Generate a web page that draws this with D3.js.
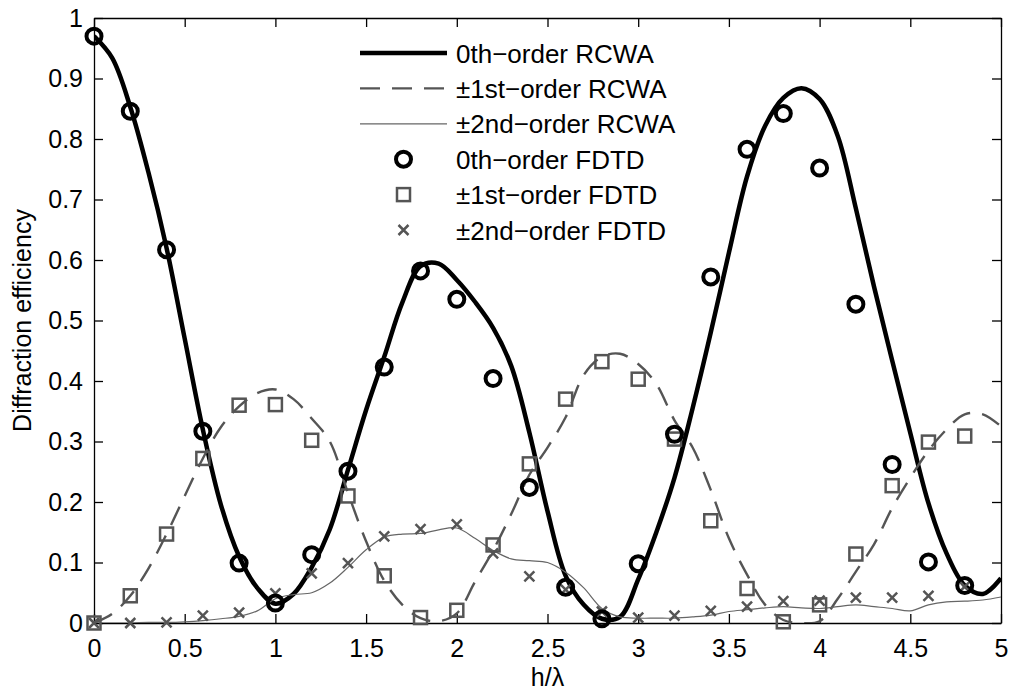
<!DOCTYPE html>
<html>
<head>
<meta charset="utf-8">
<script src="https://cdn.jsdelivr.net/npm/d3@7"></script>
<style>
  body { margin: 0; background: #fff; }
  svg text { font-family: "Liberation Sans", Arial, Helvetica, sans-serif; fill: #000; }
</style>
</head>
<body>
<script>
// h/lambda sample positions
var hSteps = [0,0.1,0.2,0.3,0.4,0.5,0.6,0.7,0.8,0.9,1.0,1.1,1.2,1.3,1.4,1.5,1.6,1.7,1.8,1.9,2.0,
              2.1,2.2,2.3,2.4,2.5,2.6,2.7,2.8,2.9,3.0,3.1,3.2,3.3,3.4,3.5,3.6,3.7,3.8,3.9,4.0,
              4.1,4.2,4.3,4.4,4.5,4.6,4.7,4.8,4.9,5.0];

// RCWA curves
var rcwa0 = [0.970,0.934,0.853,0.745,0.620,0.470,0.320,0.195,0.110,0.058,0.032,0.048,0.092,0.155,0.253,0.352,0.440,0.530,0.590,0.594,0.567,
             0.531,0.488,0.425,0.315,0.185,0.078,0.030,0.007,0.010,0.072,0.150,0.240,0.355,0.480,0.612,0.738,0.822,0.868,0.884,0.866,
             0.805,0.685,0.556,0.434,0.314,0.198,0.115,0.062,0.048,0.074];
var rcwa1 = [0.000,0.015,0.045,0.090,0.147,0.210,0.272,0.324,0.358,0.380,0.386,0.370,0.338,0.300,0.215,0.135,0.070,0.030,0.008,0.003,0.016,
             0.068,0.120,0.180,0.245,0.290,0.340,0.410,0.440,0.445,0.428,0.395,0.335,0.290,0.220,0.140,0.080,0.030,0.005,0.000,0.003,
             0.040,0.085,0.130,0.190,0.240,0.285,0.320,0.345,0.345,0.325];
var rcwa2 = [0.000,0.000,0.000,0.001,0.001,0.002,0.004,0.007,0.011,0.020,0.040,0.047,0.050,0.066,0.092,0.121,0.142,0.147,0.148,0.154,0.157,
             0.140,0.120,0.106,0.103,0.100,0.084,0.058,0.024,0.010,0.008,0.008,0.008,0.010,0.013,0.019,0.022,0.025,0.027,0.025,0.024,
             0.027,0.030,0.027,0.024,0.020,0.030,0.035,0.036,0.038,0.043];

// FDTD points, every 0.2
var hFdtd = [0,0.2,0.4,0.6,0.8,1.0,1.2,1.4,1.6,1.8,2.0,2.2,2.4,2.6,2.8,3.0,3.2,3.4,3.6,3.8,4.0,4.2,4.4,4.6,4.8];
var fdtd0 = [0.970,0.846,0.617,0.317,0.099,0.033,0.113,0.251,0.423,0.582,0.535,0.404,0.224,0.059,0.007,0.098,0.312,0.572,0.783,0.842,0.752,0.527,0.262,0.101,0.062];
var fdtd1 = [0.000,0.045,0.147,0.272,0.360,0.361,0.302,0.210,0.078,0.009,0.021,0.129,0.263,0.370,0.432,0.403,0.304,0.169,0.057,0.002,0.030,0.114,0.227,0.299,0.309];
var fdtd2 = [0.000,0.000,0.001,0.012,0.017,0.049,0.082,0.099,0.143,0.155,0.163,0.115,0.077,0.055,0.019,0.009,0.012,0.020,0.027,0.036,0.037,0.042,0.042,0.045,0.060];

var xTicks = [0,0.5,1,1.5,2,2.5,3,3.5,4,4.5,5];
var xTickLabels = ["0","0.5","1","1.5","2","2.5","3","3.5","4","4.5","5"];
var yTicks = [0,0.1,0.2,0.3,0.4,0.5,0.6,0.7,0.8,0.9,1];
var yTickLabels = ["0","0.1","0.2","0.3","0.4","0.5","0.6","0.7","0.8","0.9","1"];

var legendLabels = ["0th\u2212order RCWA","\u00b11st\u2212order RCWA","\u00b12nd\u2212order RCWA",
                    "0th\u2212order FDTD","\u00b11st\u2212order FDTD","\u00b12nd\u2212order FDTD"];

var width = 1011, height = 692,
    margin = {left: 94, right: 10, top: 18, bottom: 69},
    innerW = width - margin.left - margin.right,
    innerH = height - margin.top - margin.bottom,
    fontSize = 25,
    gray = "#555";

var svg = d3.select("body").append("svg")
    .attr("width", width)
    .attr("height", height);

var x = d3.scaleLinear().domain([0, 5]).range([0, innerW]);
var y = d3.scaleLinear().domain([0, 1]).range([innerH, 0]);

var g = svg.append("g")
    .attr("transform", "translate(" + margin.left + "," + margin.top + ")");

svg.append("clipPath").attr("id", "plotClip")
  .append("rect").attr("width", innerW).attr("height", innerH);

//axes, ticks pointing inward like matlab
function styleAxis(sel){
    sel.selectAll("path, line").attr("stroke", "#000").attr("stroke-width", 1.3);
    sel.selectAll("text").style("font-size", fontSize + "px")
       .style("font-family", "'Liberation Sans', Arial, sans-serif").attr("fill", "#000");
}

g.append("g").attr("transform", "translate(0," + innerH + ")")
    .call(d3.axisBottom(x).tickValues(xTicks).tickSize(-9).tickSizeOuter(0).tickPadding(16)
        .tickFormat(function(d, i){ return xTickLabels[i]; }))
    .call(styleAxis);
g.append("g")
    .call(d3.axisTop(x).tickValues(xTicks).tickSize(-9).tickSizeOuter(0).tickFormat(""))
    .call(styleAxis);
g.append("g")
    .call(d3.axisLeft(y).tickValues(yTicks).tickSize(-9).tickSizeOuter(0).tickPadding(11)
        .tickFormat(function(d, i){ return yTickLabels[i]; }))
    .call(styleAxis);
g.append("g").attr("transform", "translate(" + innerW + ",0)")
    .call(d3.axisRight(y).tickValues(yTicks).tickSize(-9).tickSizeOuter(0).tickFormat(""))
    .call(styleAxis);

//axis titles
svg.append("text")
    .attr("x", margin.left + x(2.5))
    .attr("y", 686)
    .attr("text-anchor", "middle")
    .style("font-size", fontSize + "px")
    .text("h/\u03bb");

svg.append("text")
    .attr("transform", "translate(31," + (margin.top + innerH / 2) + ") rotate(-90)")
    .attr("text-anchor", "middle")
    .style("font-size", fontSize + "px")
    .text("Diffraction efficiency");

//rcwa lines
var line = d3.line()
    .x(function(d){ return x(d[0]); })
    .y(function(d){ return y(d[1]); })
    .curve(d3.curveCatmullRom.alpha(0.5));

var lineStyles = [
    {vals: rcwa0, stroke: "#000", width: 4.5, dash: null},
    {vals: rcwa1, stroke: gray, width: 2.4, dash: "20,12"},
    {vals: rcwa2, stroke: "#666", width: 1.2, dash: null}
];

var plot = g.append("g").attr("clip-path", "url(#plotClip)");
lineStyles.forEach(function(s){
    plot.append("path")
        .datum(hSteps.map(function(h, i){ return [h, s.vals[i]]; }))
        .attr("d", line)
        .attr("fill", "none")
        .attr("stroke", s.stroke)
        .attr("stroke-width", s.width)
        .attr("stroke-dasharray", s.dash)
        .attr("stroke-linejoin", "round");
});

//fdtd markers
function drawCircle(sel){
    sel.append("circle").attr("r", 7.5)
        .attr("fill", "none").attr("stroke", "#000").attr("stroke-width", 4);
}
function drawSquare(sel){
    sel.append("rect").attr("x", -6.5).attr("y", -6.5).attr("width", 13).attr("height", 13)
        .attr("fill", "none").attr("stroke", gray).attr("stroke-width", 2.5);
}
function drawCross(sel){
    sel.append("path").attr("d", "M-5,-5L5,5M-5,5L5,-5")
        .attr("fill", "none").attr("stroke", gray).attr("stroke-width", 2.5);
}

var markerSets = [
    {vals: fdtd1, draw: drawSquare},
    {vals: fdtd2, draw: drawCross},
    {vals: fdtd0, draw: drawCircle}
];

markerSets.forEach(function(s){
    g.append("g").selectAll("g")
        .data(hFdtd.map(function(h, i){ return [h, s.vals[i]]; }))
        .enter()
        .append("g")
        .attr("transform", function(d){ return "translate(" + x(d[0]) + "," + y(d[1]) + ")"; })
        .each(function(){ s.draw(d3.select(this)); });
});

//legend
var legend = svg.append("g").attr("transform", "translate(360,53)");
var rowH = 35.4;
legendLabels.forEach(function(lab, i){
    var row = legend.append("g").attr("transform", "translate(0," + (i * rowH) + ")");
    if (i < 3) {
        var s = lineStyles[i];
        row.append("line").attr("x1", 0).attr("x2", 87).attr("y1", 0).attr("y2", 0)
            .attr("stroke", s.stroke).attr("stroke-width", s.width)
            .attr("stroke-dasharray", s.dash);
    } else {
        var m = row.append("g").attr("transform", "translate(43.5,0)");
        [drawCircle, drawSquare, drawCross][i - 3](m);
    }
    row.append("text")
        .attr("x", 96)
        .attr("y", 9.5)
        .style("font-size", "26px")
        .text(lab);
});
</script>
</body>
</html>
